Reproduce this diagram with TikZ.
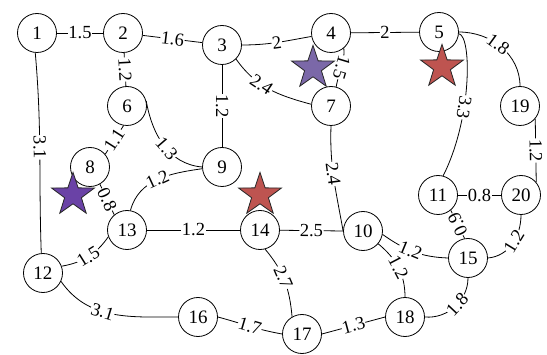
\documentclass[tikz,border=0pt]{standalone}
\usepackage{fontspec}
\setmainfont{Liberation Serif}
\usetikzlibrary{shapes.geometric}
\definecolor{starred}{HTML}{BE5450}
\definecolor{starlav}{HTML}{7B68A8}
\definecolor{starviolet}{HTML}{6A42A6}
\begin{document}
\begin{tikzpicture}[x=1pt,y=1pt,
  vtx/.style={circle,draw,fill=white,line width=0.8pt,minimum size=39pt,inner sep=0pt,
    font=\fontsize{19}{19}\selectfont},
  wt/.style={fill=white,inner sep=0.6pt,font=\fontsize{18.5}{18.5}\selectfont,sloped,allow upside down},
  lnk/.style={line width=0.8pt},
  starmark/.style={star,star points=5,star point ratio=2.55,minimum size=45pt,inner sep=0pt,
    draw=black!85,line width=0.8pt}]
\useasboundingbox (0,0) rectangle (547,354);

% vertices
\node[vtx] (n1)  at (37,321)  {1};
\node[vtx] (n2)  at (123,321) {2};
\node[vtx] (n3)  at (222,309) {3};
\node[vtx] (n4)  at (331,321) {4};
\node[vtx] (n5)  at (439,322) {5};
\node[vtx] (n6)  at (127,248) {6};
\node[vtx] (n7)  at (331,248) {7};
\node[vtx] (n8)  at (90,187)  {8};
\node[vtx] (n9)  at (222,187) {9};
\node[vtx] (n19) at (520,248) {19};
\node[vtx] (n11) at (438,159) {11};
\node[vtx] (n20) at (521,159) {20};
\node[vtx] (n13) at (127,124) {13};
\node[vtx] (n14) at (260,124) {14};
\node[vtx] (n10) at (363,123) {10};
\node[vtx] (n12) at (43,81)   {12};
\node[vtx] (n15) at (468,96)  {15};
\node[vtx] (n16) at (198,37)  {16};
\node[vtx] (n17) at (302,20)  {17};
\node[vtx] (n18) at (405,37)  {18};

% weighted edges
\draw[lnk] (n1) -- node[wt]{1.5} (n2);
\draw[lnk] (n2) -- node[wt]{1.6} (n3);
\draw[lnk] (n3) to[out=0,in=190] node[wt,pos=0.5]{2} (n4);
\draw[lnk] (n4) -- node[wt]{2} (n5);
\draw[lnk] (n5) to[out=0,in=90] node[wt,pos=0.45]{1.8} (n19);
\draw[lnk] (n5.-5) .. controls (472,318) and (472,235) .. node[wt,pos=0.63]{3.3} (n11.75);
\draw[lnk] (n4.-50) to[out=-85,in=80] node[wt,pos=0.5]{1.5} (n7.75);
\draw[lnk] (n3.-45) to[out=-55,in=165] node[wt,pos=0.4]{2.4} (n7.175);
\draw[lnk] (n3) -- node[wt]{1.2} (n9);
\draw[lnk] (n2) -- node[wt]{1.2} (n6);
\draw[lnk] (n8.40) -- node[wt]{1.1} (n6.-100);
\draw[lnk] (n6.15) to[out=-80,in=175] node[wt,pos=0.55]{1.3} (n9.180);
\draw[lnk] (n13.80) to[out=75,in=188] node[wt,pos=0.5]{1.2} (n9.185);
\draw[lnk] (n8.-60) -- node[wt,pos=0.5]{0.8} (n13.130);
\draw[lnk] (n1.-95) to[out=-85,in=92] node[wt,pos=0.47]{3.1} (n12.95);
\draw[lnk] (n12.20) to[out=10,in=-125] node[wt,pos=0.5]{1.5} (n13.-160);
\draw[lnk] (n13) -- node[wt]{1.2} (n14);
\draw[lnk] (n14) -- node[wt]{2.5} (n10.west);
\draw[lnk] (n7.south) to[out=-92,in=100] node[wt,pos=0.45]{2.4} (n10.west);
\draw[lnk] (n14.-75) to[out=-50,in=95] node[wt,pos=0.45]{2.7} (n17.120);
\draw[lnk] (n12.-25) to[out=-55,in=180] node[wt,pos=0.42]{3.1} (n16.west);
\draw[lnk] (n16.east) to[out=-15,in=170] node[wt,pos=0.5]{1.7} (n17.west);
\draw[lnk] (n17.east) -- node[wt]{1.3} (n18.west);
\draw[lnk] (n10.-10) to[out=-35,in=178] node[wt,pos=0.45]{1.2} (n15.west);
\draw[lnk] (n10.-40) to[out=-40,in=90] node[wt,pos=0.5]{1.2} (n18.north);
\draw[lnk] (n18.east) to[out=-5,in=-90] node[wt,pos=0.55]{1.8} (n15.south);
\draw[lnk] (n15.100) -- node[wt]{0.9} (n11.-50);
\draw[lnk] (n11) -- node[wt]{0.8} (n20);
\draw[lnk] (n19.-40) -- node[wt]{1.2} (n20.40);
\draw[lnk] (n15.east) to[out=5,in=-90] node[wt,pos=0.55]{1.2} (n20.south);

% star markers
\node[starmark,fill=starlav]    (sA) at (313,286) {};
\node[starmark,fill=starred]    (sB) at (442,287) {};
\node[starmark,fill=starviolet] (sC) at (73,159)  {};
\node[starmark,fill=starred]    (sD) at (260,159) {};
\end{tikzpicture}
\end{document}
